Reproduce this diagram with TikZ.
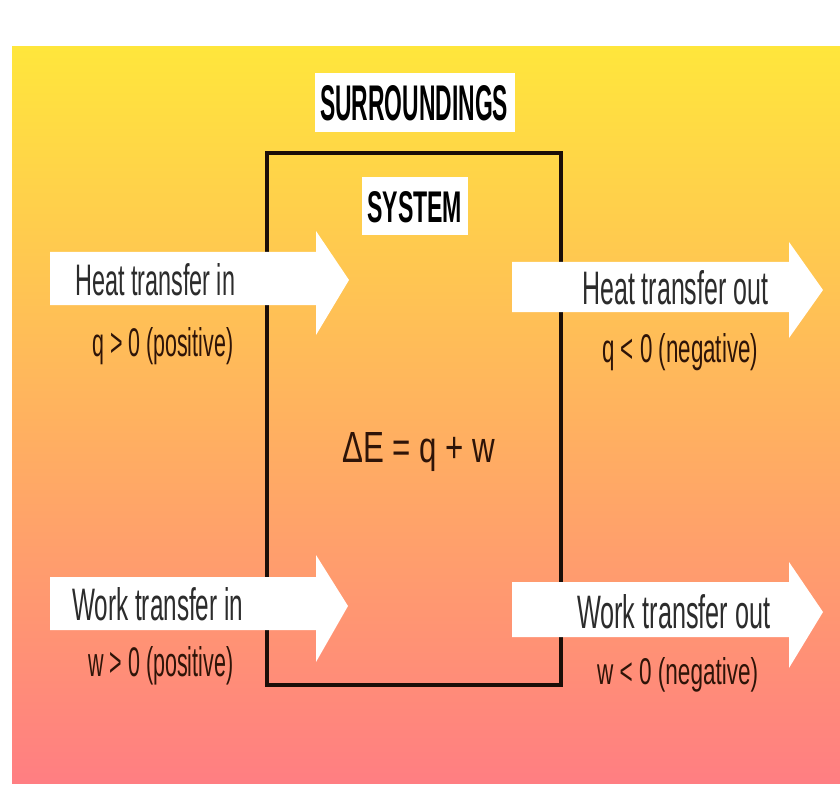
\documentclass[tikz,border=0pt]{standalone}
\usepackage{fontspec}
\setmainfont{Liberation Sans}
\usepackage{graphicx}
\newcommand{\condtxt}[3]{\resizebox{#1pt}{#2pt}{#3}}
\definecolor{bgtop}{HTML}{FFE63C}
\definecolor{bgmid}{HTML}{FFB870}
\definecolor{bgbot}{HTML}{FF7E82}
\definecolor{boxtxt}{HTML}{2C2C2C}
\definecolor{bgtxt}{HTML}{2E1408}
\definecolor{sysline}{HTML}{1A0E08}
\begin{document}
\begin{tikzpicture}[x=1pt,y=-1pt,
  labelbox/.style={fill=white, draw=none},
  blockarrow/.style={fill=white, draw=none},
  intext/.style={anchor=base west, inner sep=0pt, text=boxtxt},
  outtext/.style={anchor=base west, inner sep=0pt, text=bgtxt},
  titletext/.style={anchor=base west, inner sep=0pt, text=black, font=\bfseries}]
\useasboundingbox (0,0) rectangle (840,794);
\fill[white] (0,0) rectangle (840,794);
% background
\shade[top color=bgtop, middle color=bgmid, bottom color=bgbot] (12,47) rectangle (840,783);
% surroundings label
\fill[labelbox] (315,73) rectangle (515,132);
\node[titletext] (surr) at (320,121) {\condtxt{188}{35}{SURROUNDINGS}};
% system box
\draw[sysline, line width=3.5pt] (267,153) rectangle (561,685);
\fill[labelbox] (362,177) rectangle (468,235);
\node[titletext] (sys) at (367,223) {\condtxt{95}{31}{SYSTEM}};
% arrows
\fill[blockarrow] (50,252) -- (316,252) -- (316,231) -- (349,280) -- (316,335) -- (316,305) -- (50,305) -- cycle;
\fill[blockarrow] (512,262) -- (789,262) -- (789,242) -- (823,290) -- (789,338) -- (789,312) -- (512,312) -- cycle;
\fill[blockarrow] (50,577) -- (316,577) -- (316,555) -- (348,606) -- (316,662) -- (316,630) -- (50,630) -- cycle;
\fill[blockarrow] (512,582) -- (789,582) -- (789,562) -- (823,612) -- (789,668) -- (789,637) -- (512,637) -- cycle;
% arrow texts
\node[intext] (hin) at (75,295) {\condtxt{160}{32}{Heat transfer in}};
\node[outtext] (qin) at (92,356) {\condtxt{141}{29}{q > 0 (positive)}};
\node[intext] (hout) at (582,305) {\condtxt{186}{34}{Heat transfer out}};
\node[outtext] (qout) at (602,362) {\condtxt{156}{29}{q < 0 (negative)}};
\node[intext] (win) at (72,620) {\condtxt{171}{33}{Work transfer in}};
\node[outtext] (wpos) at (88,676) {\condtxt{145}{30}{w > 0 (positive)}};
\node[intext] (wout) at (577,628) {\condtxt{193}{34}{Work transfer out}};
\node[outtext] (wneg) at (597,684) {\condtxt{161}{27}{w < 0 (negative)}};
% equation
\node[outtext] (eq) at (342,462) {\condtxt{153}{30}{ΔE = q + w}};
\end{tikzpicture}
\end{document}
